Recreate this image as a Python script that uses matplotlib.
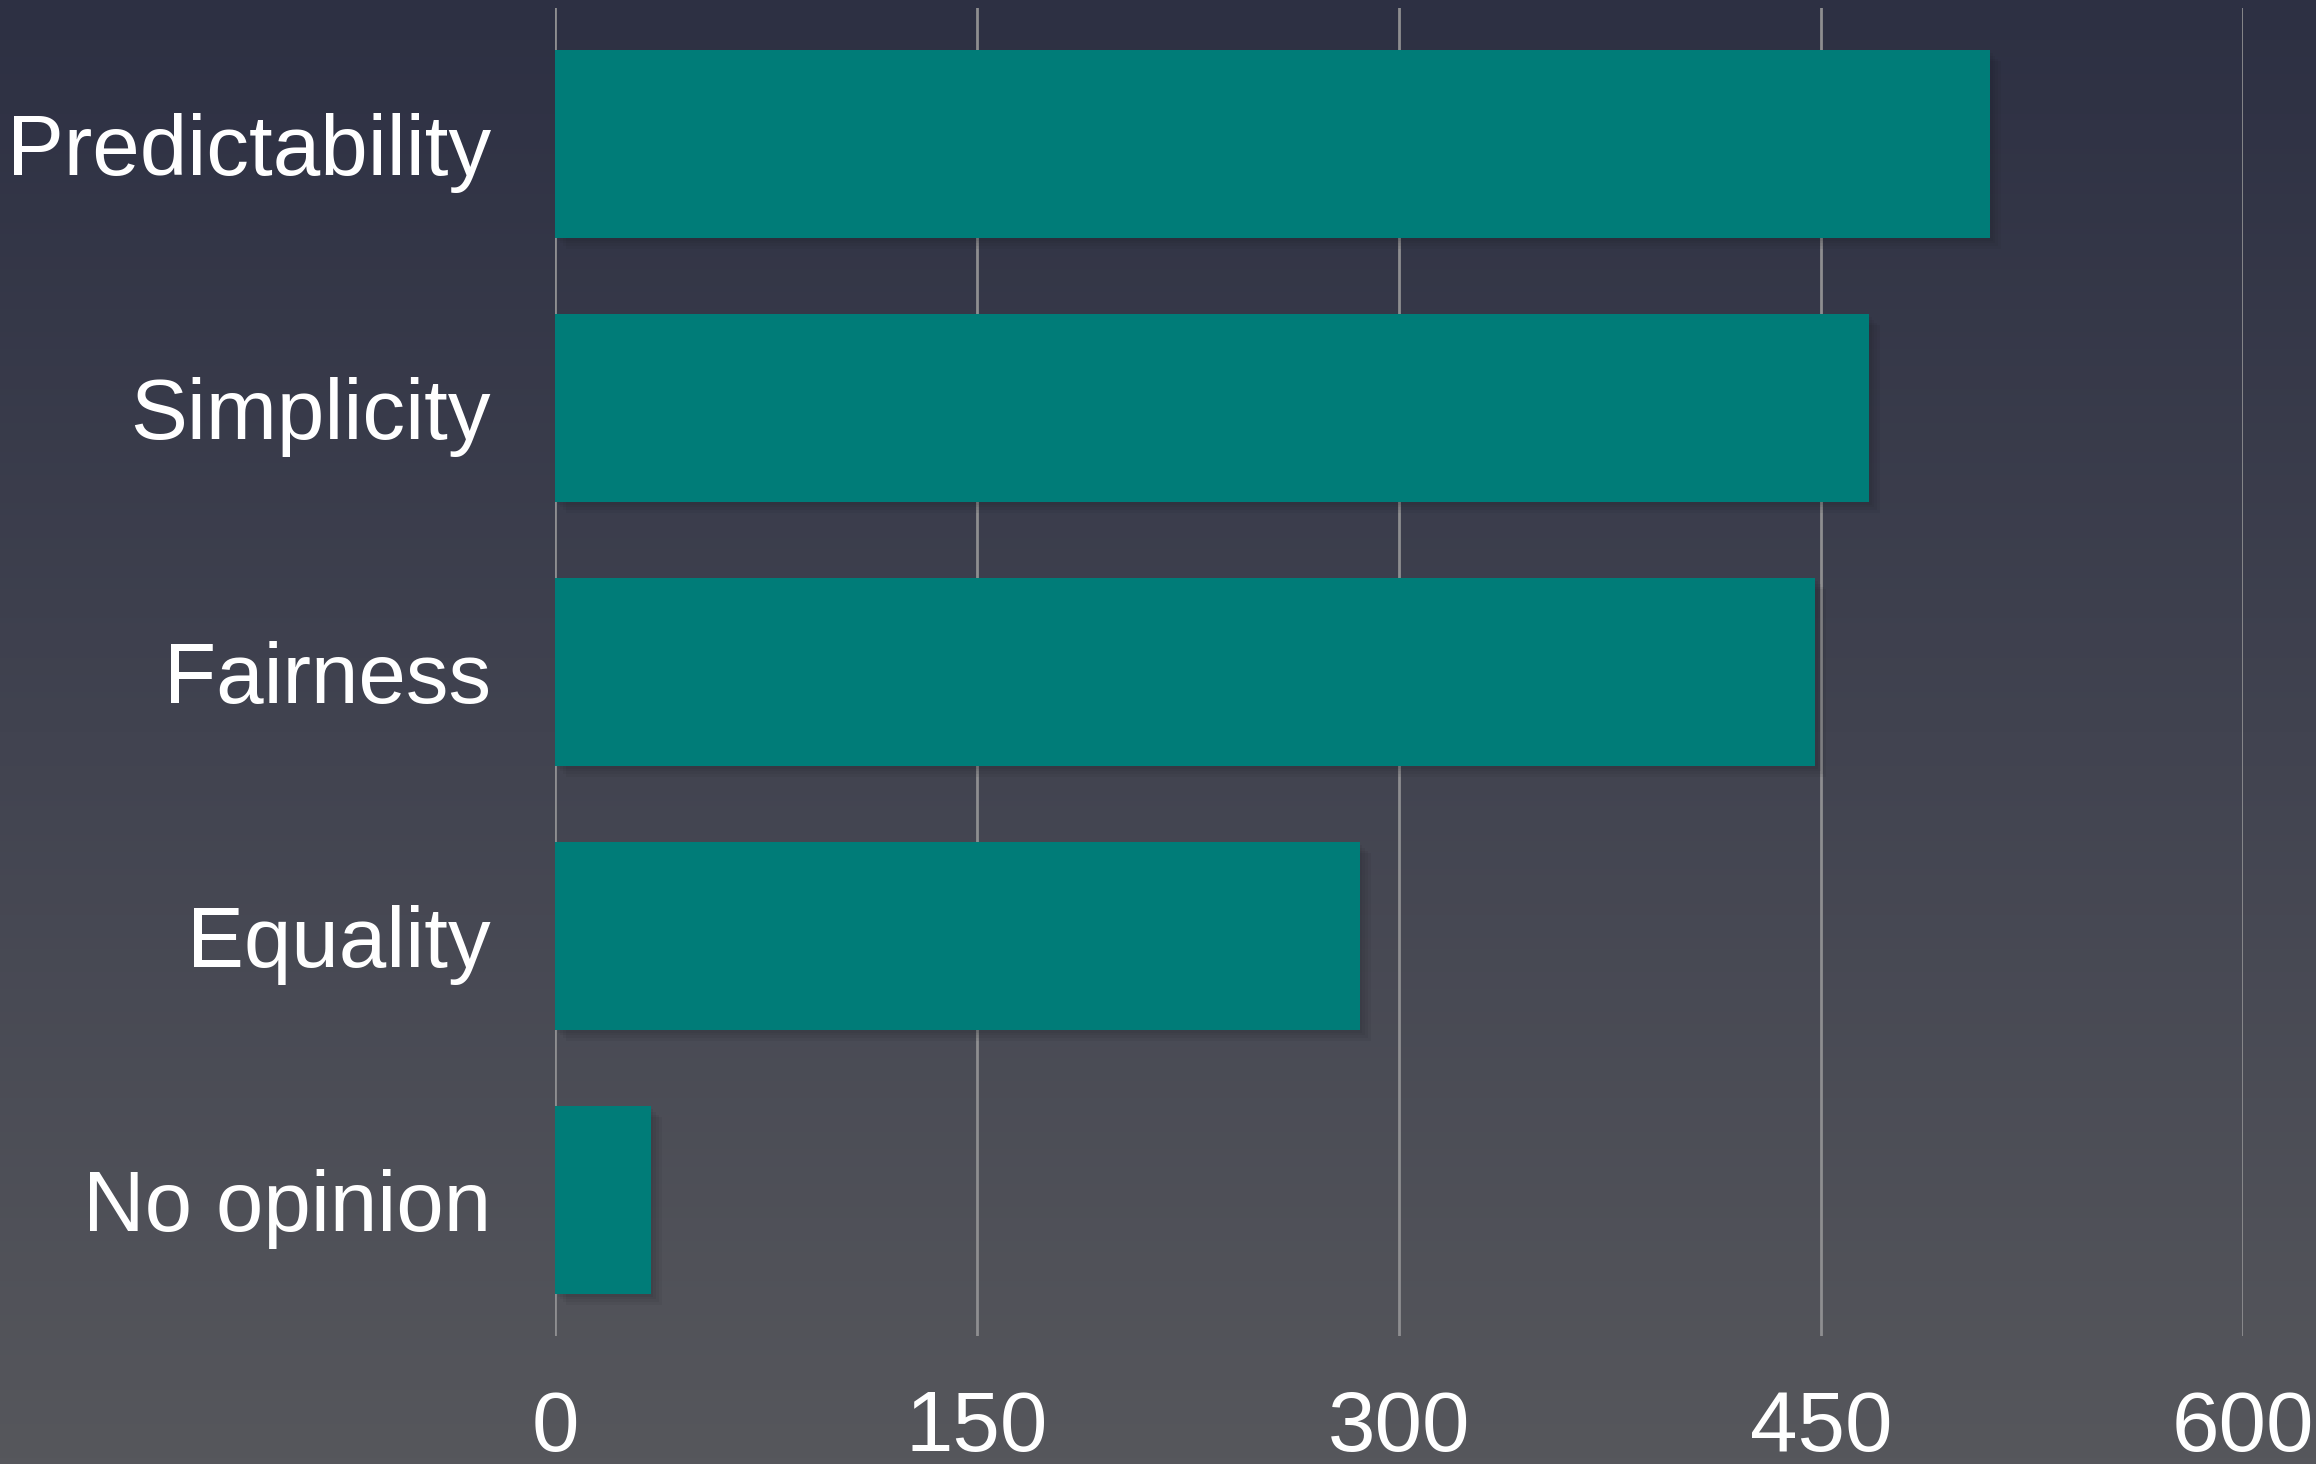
import numpy as np
import matplotlib
matplotlib.use("Agg")
import matplotlib.pyplot as plt
from matplotlib import patheffects as pe
from matplotlib.colors import LinearSegmentedColormap

categories = ["Predictability", "Simplicity", "Fairness", "Equality", "No opinion"]
values = [510, 467, 448, 286, 34]
xticks = [0, 150, 300, 450, 600]

plt.rcParams['font.family'] = ['Liberation Sans', 'DejaVu Sans']

fig = plt.figure(figsize=(23.16, 14.64), dpi=100)

# gradient background
bg = fig.add_axes([0, 0, 1, 1], zorder=-10)
grad = LinearSegmentedColormap.from_list("bg", ["#2d3043", "#414350", "#56575c"])
bg.imshow(np.linspace(0, 1, 256).reshape(-1, 1), aspect="auto", cmap=grad,
          extent=[0, 1, 0, 1], origin="upper")
bg.axis("off")

ax = fig.add_axes([0.2396, 0.0874, 0.7289, 0.9071])
ax.patch.set_alpha(0)

y = np.arange(len(categories))
bars = ax.barh(y, values, height=0.71, color="#007c78", zorder=3)
# soft shadow: a few faint layers
shadow = [pe.SimplePatchShadow(offset=(d, -d), shadow_rgbFace="#1a1b22", alpha=0.07)
          for d in (2, 4, 6, 8)]
for b in bars:
    b.set_path_effects(shadow + [pe.Normal()])

ax.set_xlim(0, 600)
ax.set_ylim(len(categories) - 0.485, -0.515)
ax.set_yticks(y)
ax.set_yticklabels(categories)
ax.set_xticks(xticks)
ax.set_xticklabels([str(t) for t in xticks])

ax.grid(axis="x", color="#8e8e90", linewidth=2.0, zorder=0)
ax.grid(axis="y", visible=False)
ax.set_axisbelow(True)
for s in ax.spines.values():
    s.set_visible(False)

ax.tick_params(axis="y", length=0, pad=46, labelsize=61.5, labelcolor="white")
ax.tick_params(axis="x", length=0, pad=38, labelsize=61.5, labelcolor="white")

fig.savefig("out.png", dpi=100)
